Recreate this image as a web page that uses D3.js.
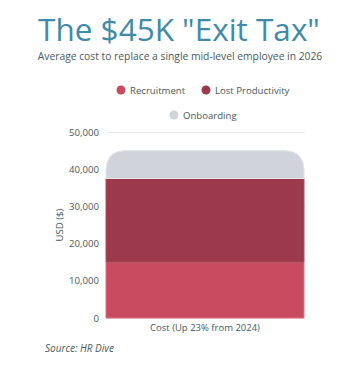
<!DOCTYPE html>
<html><head><meta charset="utf-8">
<script src="https://cdn.jsdelivr.net/npm/d3@7"></script>
<style>body{margin:0;background:#fff}svg{display:block}</style>
</head><body>
<script>
const categories = ["Cost (Up 23% from 2024)"];
const seriesNames = ["Recruitment", "Lost Productivity", "Onboarding"];
const recruitment = [15000];
const lostProductivity = [22500];
const onboarding = [7500];
const yTicks = [0, 10000, 20000, 30000, 40000, 50000];
const colors = ["#c84b60", "#9c3a4c", "#d0d3db"];
const strokes = ["#e0707f", "#b04f61", "#e2e4ea"];

const W = 360, H = 366;
const m = {l: 106, r: 56, t: 132, b: 48};
const svg = d3.select("body").append("svg").attr("width", W).attr("height", H);
const textCol = "#46585e";
const font = "Open Sans";

svg.append("text").attr("x", 179).attr("y", 40.5).attr("text-anchor", "middle")
  .attr("font-family", font).attr("font-size", 31.5).attr("fill", "#3f8ba9")
  .text('The $45K "Exit Tax"');
svg.append("text").attr("x", 180).attr("y", 59.5).attr("text-anchor", "middle")
  .attr("font-family", font).attr("font-size", 10.3).attr("fill", textCol)
  .text("Average cost to replace a single mid-level employee in 2026");

const x = d3.scaleBand().domain(categories).range([m.l, W - m.r]).padding(0);
const y = d3.scaleLinear().domain([0, 50000]).range([H - m.b, m.t]);

// gridlines
svg.append("g").selectAll("line").data(yTicks).join("line")
  .attr("x1", m.l).attr("x2", W - m.r + 1)
  .attr("y1", d => y(d) + 0.5).attr("y2", d => y(d) + 0.5)
  .attr("stroke", "#e6e8ea").attr("stroke-width", 1);

const yAxis = d3.axisLeft(y).tickValues(yTicks).tickFormat(d3.format(",")).tickSize(0).tickPadding(7);
const ga = svg.append("g").attr("transform", `translate(${m.l},0)`).call(yAxis);
ga.select(".domain").remove();
ga.selectAll("text").attr("font-family", font).attr("font-size", 9.6).attr("fill", textCol);

const stack = d3.stack().keys([0,1,2]).value((d, k) => [recruitment, lostProductivity, onboarding][k][d]);
const series = stack(categories.map((c, i) => i));

const r = 20;
series.forEach((s, k) => {
  s.forEach((d, i) => {
    const x0 = x(categories[i]), x1 = x0 + x.bandwidth();
    const yTop = y(d[1]), yBot = y(d[0]);
    let path;
    if (k === series.length - 1) {
      path = `M${x0},${yBot} L${x0},${yTop + r} Q${x0},${yTop} ${x0 + r},${yTop} L${x1 - r},${yTop} Q${x1},${yTop} ${x1},${yTop + r} L${x1},${yBot} Z`;
    } else {
      path = `M${x0},${yBot} L${x0},${yTop} L${x1},${yTop} L${x1},${yBot} Z`;
    }
    svg.append("path").attr("d", path).attr("fill", colors[k])
      .attr("stroke", strokes[k]).attr("stroke-width", 1);
  });
});

// x label
svg.append("text").attr("x", x(categories[0]) + x.bandwidth() / 2).attr("y", 331)
  .attr("text-anchor", "middle").attr("font-family", font).attr("font-size", 9.5)
  .attr("fill", textCol).text(categories[0]);

// y title
svg.append("text").attr("transform", "translate(63,225) rotate(-90)")
  .attr("text-anchor", "middle").attr("font-family", font).attr("font-size", 9.6)
  .attr("fill", textCol).text("USD ($)");

// legend
const legendPos = [[121, 90], [206, 90], [174, 115]];
seriesNames.forEach((n, k) => {
  const [cx, cy] = legendPos[k];
  svg.append("circle").attr("cx", cx).attr("cy", cy).attr("r", 4.5).attr("fill", colors[k]);
  svg.append("text").attr("x", cx + 9).attr("y", cy + 3.5).attr("font-family", font)
    .attr("font-size", 9.6).attr("fill", textCol).text(n);
});

svg.append("text").attr("x", 45).attr("y", 352).attr("font-family", font)
  .attr("font-style", "italic").attr("font-size", 10).attr("fill", textCol).text("Source: HR Dive");
</script>
</body></html>
